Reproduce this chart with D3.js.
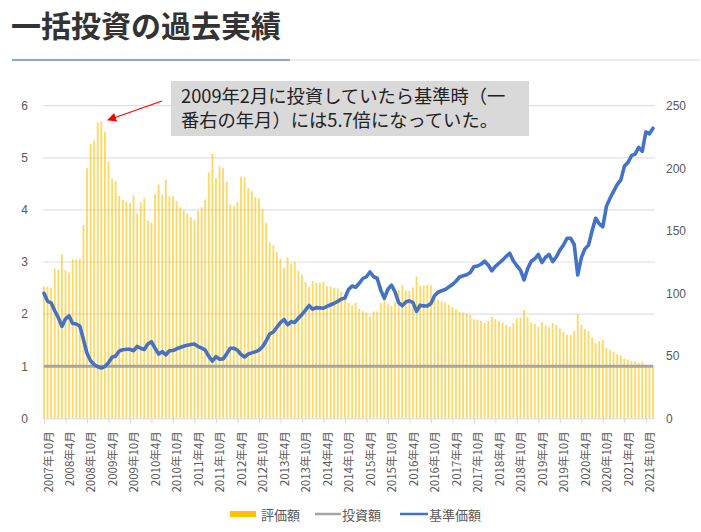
<!DOCTYPE html>
<html><head><meta charset="utf-8">
<script src="https://cdn.jsdelivr.net/npm/d3@7"></script>
<style>
body{margin:0;background:#fff;}
svg{display:block;font-family:"Noto Sans CJK JP","Noto Sans",sans-serif;}
</style>
</head><body>
<svg id="c" width="701" height="532"></svg>
<script>
// ---------- data ----------
const title = "一括投資の過去実績";
const annotation = ["2009年2月に投資していたら基準時（一", "番右の年月）には5.7倍になっていた。"];
const seriesNames = ["評価額", "投資額", "基準価額"];
const startYear = 2007, startMonth = 10;
const leftTicks = [0, 1, 2, 3, 4, 5, 6];
const rightTicks = [0, 50, 100, 150, 200, 250];
const tickLabels = ["2007年10月","2008年4月","2008年10月","2009年4月","2009年10月","2010年4月","2010年10月",
  "2011年4月","2011年10月","2012年4月","2012年10月","2013年4月","2013年10月","2014年4月","2014年10月",
  "2015年4月","2015年10月","2016年4月","2016年10月","2017年4月","2017年10月","2018年4月","2018年10月",
  "2019年4月","2019年10月","2020年4月","2020年10月","2021年4月","2021年10月"];
// 評価額 (left axis)
const valuation = [
  2.53,2.52,2.50,2.87,2.85,3.15,2.84,2.80,3.05,3.05,3.06,3.71,4.80,5.26,5.33,5.68,5.70,5.50,4.93,4.60,
  4.55,4.27,4.19,4.16,4.13,4.28,3.93,4.15,4.22,3.80,3.75,4.30,4.49,4.29,4.58,4.26,4.26,4.16,4.05,3.99,
  3.93,3.86,3.81,3.98,4.05,4.20,4.72,5.08,4.61,4.84,4.80,4.54,4.10,4.07,4.15,4.64,4.62,4.42,4.36,4.25,
  4.22,4.01,3.75,3.37,3.32,3.19,3.06,2.89,3.09,2.97,3.00,2.83,2.75,2.62,2.52,2.64,2.60,2.60,2.62,2.54,
  2.53,2.51,2.49,2.43,2.36,2.21,2.17,2.22,2.10,2.06,2.03,1.96,2.05,2.05,2.21,2.36,2.19,2.16,2.23,2.46,
  2.56,2.45,2.45,2.51,2.72,2.54,2.55,2.56,2.55,2.30,2.27,2.24,2.22,2.18,2.14,2.09,2.04,2.03,2.02,1.99,
  1.90,1.89,1.87,1.83,1.87,1.95,1.90,1.87,1.84,1.79,1.76,1.83,1.92,1.93,2.08,1.94,1.84,1.81,1.75,1.85,
  1.78,1.75,1.83,1.79,1.72,1.66,1.60,1.60,1.68,2.00,1.80,1.71,1.67,1.55,1.44,1.48,1.51,1.35,1.31,1.27,
  1.23,1.20,1.15,1.13,1.10,1.09,1.07,1.08,1.02,1.02,1.00];
// 投資額 (left axis, constant)
const investedAmount = 1;
// 基準価額 (right axis)
const nav = [
  100,93.5,92.3,86,80.5,73.5,79.5,81.8,75.8,75.4,73.8,63,52,46,43,41.2,40.2,41.5,44.5,48.8,
  49.8,53.8,54.8,55.2,55.2,54,57.5,56,55,59.5,61.3,56,51.4,53.3,50.8,54,54.2,55.6,56.6,57.6,
  58.5,59,59.4,57.5,56.2,54.5,49.5,45.8,49.3,47.2,47.5,51.5,56,56,54.6,51,49,51.4,52.3,53.2,
  54.5,57.2,61.8,67.4,69,72.8,76.5,79,74.8,77.3,76.7,80,83,86.5,90.2,87.3,88.5,88.3,88,89.5,
  90.8,92,93.5,95.3,96.2,103,105.8,104.8,108,111.8,113.2,117,113.2,112,102.5,96,103.2,106.5,101,92.5,
  90,93,94,92.5,85.5,90.5,89.9,89.8,91.8,98,100.8,102,103,105,107,109.6,113,114,114.8,116.6,
  121.2,121.8,123.2,125.6,122.6,118,121.5,124,126.5,129.5,132,126,122,118.5,110.6,119.5,125.6,127.5,131,124.5,
  128.8,131,125.3,129,134.5,138.5,144,144,139,114.6,128.5,135.5,138.5,150,160,155.5,153.2,169.5,176,181.5,
  186.8,190.5,201.5,204.5,210,211.3,216.7,213.5,229,227.5,232];

// ---------- chart ----------
const months = valuation.map((_, i) => {
  const m = startMonth - 1 + i;
  return `${startYear + Math.floor(m / 12)}年${(m % 12) + 1}月`;
});

const svg = d3.select("#c");
const W = 701, H = 532;
svg.append("rect").attr("width", W).attr("height", H).attr("fill", "#fff");

// title
svg.append("text").attr("x", 11).attr("y", 24).attr("dominant-baseline", "central")
  .attr("font-size", 30).attr("font-weight", 700).attr("fill", "#333").text(title);
svg.append("line").attr("x1", 290).attr("x2", 700).attr("y1", 60).attr("y2", 60)
  .attr("stroke", "#e6e6e6").attr("stroke-width", 1.5);
svg.append("line").attr("x1", 12).attr("x2", 290).attr("y1", 60).attr("y2", 60)
  .attr("stroke", "#8eaabf").attr("stroke-width", 2);

const plotL = 43, plotR = 655, y0 = 418.3, yTop = 105.7;
const x = d3.scalePoint().domain(months).range([44, 653]);
const yL = d3.scaleLinear().domain([0, 6]).range([y0, yTop]);
const yR = d3.scaleLinear().domain([0, 250]).range([y0, yTop]);

const g = svg.append("g");
// gridlines
g.selectAll(".grid").data(leftTicks.filter(d => d > 0)).join("line")
  .attr("x1", plotL).attr("x2", plotR).attr("y1", d => yL(d)).attr("y2", d => yL(d))
  .attr("stroke", "#e0e0e0").attr("stroke-width", 1.2);

// bars
g.selectAll(".bar").data(valuation).join("rect")
  .attr("x", (d, i) => x(months[i]) - 0.9).attr("width", 1.8)
  .attr("y", d => yL(d)).attr("height", d => yL(0) - yL(d))
  .attr("fill", "#FFC000").attr("fill-opacity", 0.62);

// x axis
const xAxis = d3.axisBottom(x).tickValues(tickLabels).tickSize(5).tickSizeOuter(0);
const xa = g.append("g").attr("transform", `translate(0,${y0})`).call(xAxis);
xa.select(".domain").attr("stroke", "#d9d9d9").attr("d", `M${plotL},0.5H${plotR}`);
xa.selectAll(".tick line").attr("stroke", "#d9d9d9");
xa.selectAll(".tick text").attr("transform", "rotate(-90)")
  .attr("x", -13).attr("y", 3).attr("dy", null).attr("dominant-baseline", "central")
  .attr("text-anchor", "end").attr("font-size", 11.5).attr("fill", "#595959")
  .attr("font-family", "Noto Sans CJK JP");

// investment line
g.append("line").attr("x1", x(months[0])).attr("x2", x(months[months.length - 1]))
  .attr("y1", yL(investedAmount)).attr("y2", yL(investedAmount))
  .attr("stroke", "#A5A5A5").attr("stroke-width", 3);

// nav line
g.append("path").datum(nav)
  .attr("d", d3.line().x((d, i) => x(months[i])).y(d => yR(d)))
  .attr("fill", "none").attr("stroke", "#4472C4").attr("stroke-width", 3.6)
  .attr("stroke-linejoin", "round").attr("stroke-linecap", "round");

// left axis
const la = g.append("g").attr("transform", "translate(30,0)")
  .call(d3.axisLeft(yL).tickValues(leftTicks).tickFormat(d3.format("d")).tickSize(0).tickPadding(2));
la.select(".domain").remove();
la.selectAll("text").attr("font-size", 12).attr("fill", "#595959").attr("font-family", "Liberation Sans, Noto Sans");

// right axis
const ra = g.append("g").attr("transform", "translate(665,0)")
  .call(d3.axisRight(yR).tickValues(rightTicks).tickFormat(d3.format("d")).tickSize(0).tickPadding(1));
ra.select(".domain").remove();
ra.selectAll("text").attr("font-size", 12).attr("fill", "#595959").attr("font-family", "Liberation Sans, Noto Sans");

// legend
const leg = svg.append("g").attr("font-size", 13).attr("fill", "#595959");
leg.append("rect").attr("x", 230).attr("y", 511).attr("width", 26).attr("height", 6).attr("fill", "#FFC000");
leg.append("text").attr("x", 261).attr("y", 514).attr("dominant-baseline", "central").text(seriesNames[0]);
leg.append("line").attr("x1", 315).attr("x2", 341).attr("y1", 514).attr("y2", 514).attr("stroke", "#A5A5A5").attr("stroke-width", 2.5);
leg.append("text").attr("x", 342).attr("y", 514).attr("dominant-baseline", "central").text(seriesNames[1]);
leg.append("line").attr("x1", 400).attr("x2", 428).attr("y1", 514).attr("y2", 514).attr("stroke", "#4472C4").attr("stroke-width", 2.5);
leg.append("text").attr("x", 429).attr("y", 514).attr("dominant-baseline", "central").text(seriesNames[2]);

// annotation
svg.append("defs").append("marker").attr("id", "ah").attr("viewBox", "0 0 10 10")
  .attr("refX", 9).attr("refY", 5).attr("markerWidth", 7).attr("markerHeight", 7)
  .attr("orient", "auto").append("path").attr("d", "M0,0L10,5L0,10z").attr("fill", "#ff0000");
svg.append("line").attr("x1", 162).attr("y1", 101).attr("x2", 108).attr("y2", 120)
  .attr("stroke", "#ff0000").attr("stroke-width", 1.3).attr("marker-end", "url(#ah)");
svg.append("rect").attr("x", 171).attr("y", 81).attr("width", 358).attr("height", 55).attr("fill", "#d9d9d9");
svg.selectAll(".ann").data(annotation).join("text")
  .attr("x", 181).attr("y", (d, i) => 103 + i * 23.5)
  .attr("font-size", 18.3).attr("fill", "#222").text(d => d);
</script>
</body></html>
